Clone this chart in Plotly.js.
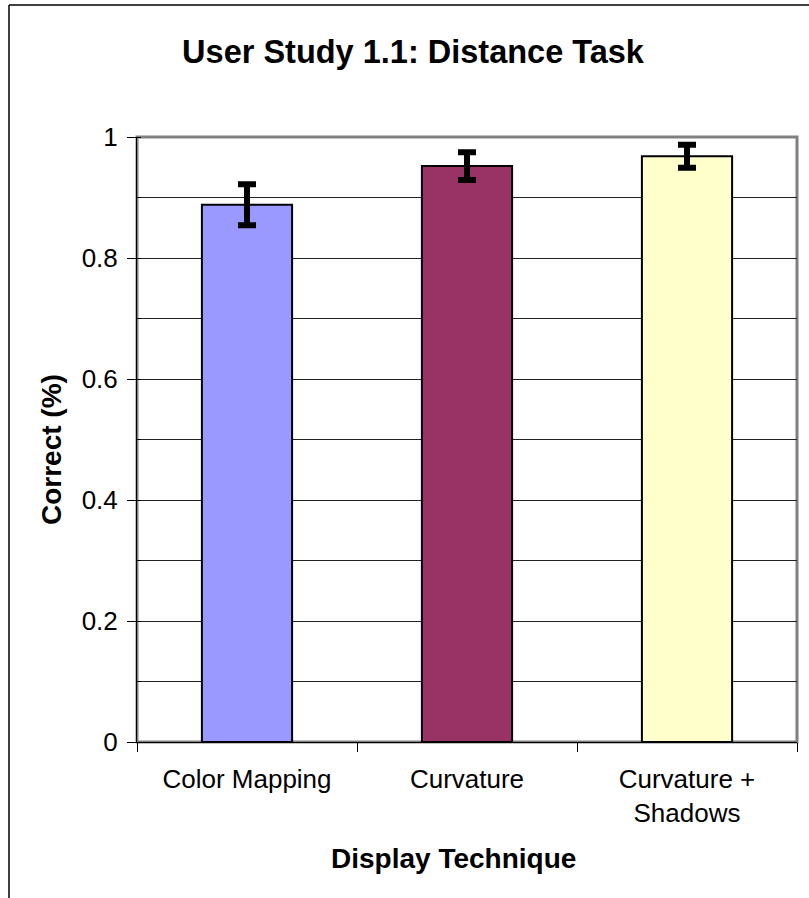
<!DOCTYPE html>
<html>
<head>
<meta charset="utf-8">
<script src="https://cdn.plot.ly/plotly-3.0.1.min.js"></script>
<style>html,body{margin:0;padding:0;background:#fff;}#chart{width:809px;height:898px;}</style>
</head>
<body>
<div id="chart"></div>
<script>
const categories = ["Color Mapping", "Curvature", "Curvature +<br>Shadows"];
const correct = [0.888, 0.952, 0.968];
const errors = [0.034, 0.023, 0.019];
const barColors = ["#9999FF", "#993366", "#FFFFCC"];
const yTickVals = [0, 0.2, 0.4, 0.6, 0.8, 1];
const yTickText = ["0", "0.2", "0.4", "0.6", "0.8", "1"];

const FONT = "Liberation Sans, Arial, sans-serif";

const trace = {
  type: "bar",
  x: categories,
  y: correct,
  width: 0.41,
  marker: { color: barColors, line: { color: "#000", width: 2 } },
  error_y: { type: "data", array: errors, visible: true, color: "#000", thickness: 6, width: 9 },
  hoverinfo: "x+y"
};

const layout = {
  width: 809,
  height: 898,
  margin: { l: 137, r: 12, t: 137, b: 156 },
  paper_bgcolor: "#fff",
  plot_bgcolor: "#fff",
  showlegend: false,
  font: { family: FONT, color: "#000", size: 26 },
  title: {
    text: "<b>User Study 1.1: Distance Task</b>",
    font: { family: FONT, size: 32.5, color: "#000" },
    x: 413 / 809, xref: "container", xanchor: "center",
    y: 1 - 52 / 898, yref: "container", yanchor: "middle"
  },
  xaxis: {
    type: "category",
    showline: true, linecolor: "#000", linewidth: 1,
    ticks: "outside", ticklen: 9, tickcolor: "#000", tickwidth: 1,
    tickson: "boundaries",
    tickfont: { family: FONT, size: 26, color: "#000" },
    ticklabelstandoff: 14,
    showgrid: false, zeroline: false,
    range: [-0.5, 2.5]
  },
  yaxis: {
    range: [0, 1],
    tickvals: yTickVals, ticktext: yTickText,
    showline: true, linecolor: "#000", linewidth: 1,
    ticks: "outside", ticklen: 9, tickcolor: "#000", tickwidth: 1,
    tickfont: { family: FONT, size: 26, color: "#000" },
    ticklabelstandoff: 4,
    showgrid: true, gridcolor: "#222", gridwidth: 1,
    zeroline: false,
    minor: { dtick: 0.1, ticks: "inside", ticklen: 4, tickcolor: "#000", showgrid: true, gridcolor: "#222", gridwidth: 1 }
  },
  annotations: [
    { text: "<b>Display Technique</b>", xref: "paper", yref: "paper",
      x: (453 - 137) / 660, y: (742 - 858) / 605, xanchor: "center", yanchor: "middle",
      showarrow: false, font: { family: FONT, size: 28, color: "#000" } },
    { text: "<b>Correct (%)</b>", xref: "paper", yref: "paper", textangle: -90,
      x: (52 - 137) / 660, y: (742 - 450) / 605, xanchor: "center", yanchor: "middle",
      showarrow: false, font: { family: FONT, size: 28, color: "#000" } }
  ],
  shapes: [
    { type: "rect", xref: "paper", yref: "paper", x0: 0, x1: 1, y0: 0, y1: 1,
      line: { color: "#808080", width: 3 }, layer: "below" },
    { type: "line", xref: "paper", yref: "paper", x0: (9 - 137) / 660, x1: (812 - 137) / 660,
      y0: (742 - 5) / 605, y1: (742 - 5) / 605, line: { color: "#000", width: 1.5 } },
    { type: "line", xref: "paper", yref: "paper", x0: (9 - 137) / 660, x1: (9 - 137) / 660,
      y0: (742 - 5) / 605, y1: (742 - 900) / 605, line: { color: "#000", width: 1.5 } }
  ]
};

Plotly.newPlot("chart", [trace], layout, { displayModeBar: false, staticPlot: true });
</script>
</body>
</html>
